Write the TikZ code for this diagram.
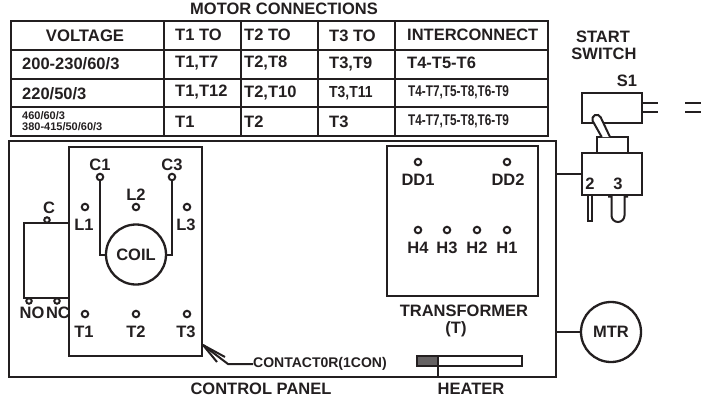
\documentclass[tikz,border=0pt]{standalone}
\usepackage{fontspec}
\setmainfont{Liberation Sans}
\newfontfamily\narrowfont{Liberation Sans}[FakeStretch=0.76]
\newfontfamily\halfnarrowfont{Liberation Sans}[FakeStretch=0.87]
\usetikzlibrary{positioning, calc}
\definecolor{ink}{HTML}{231F20}

\begin{document}
\begin{tikzpicture}[x=1pt, y=-1pt, ink,
    rule/.style={line width=2.3pt, ink},
    box/.style={rectangle, draw=ink, line width=2.3pt, inner sep=0pt, outer sep=0pt},
    term/.style={circle, draw=ink, line width=2pt, fill=white, inner sep=0pt, minimum size=6.5pt},
    wire/.style={line width=2pt, ink},
    cell/.style={anchor=west, inner sep=0pt, font=\fontsize{16.5}{16.5}\bfseries},
    big/.style={inner sep=0pt, font=\fontsize{16.7}{16.7}\bfseries},
    lab/.style={inner sep=0pt, font=\fontsize{16.5}{16.5}\bfseries},
    small/.style={anchor=west, inner sep=0pt, font=\fontsize{11}{11}\bfseries},
    tiny/.style={anchor=west, inner sep=0pt, font=\fontsize{16}{16}\halfnarrowfont\bfseries},
    tinier/.style={anchor=west, inner sep=0pt, font=\fontsize{15.5}{15.5}\narrowfont\bfseries}]

    \useasboundingbox (0,0) rectangle (707,400);

    % Table
    \node[lab] (title) at (284,9) {MOTOR CONNECTIONS};
    \draw[rule] (11,21) rectangle (548,136);
    \foreach \y in {50,79,107} \draw[rule] (11,\y) -- (548,\y);
    \foreach \x in {164,241,318,395} \draw[rule] (\x,21) -- (\x,136);

    \node[big] (volt) at (85,36) {VOLTAGE};
    \node[cell] (h1) at (175,35) {T1 TO};
    \node[cell] (h2) at (244,35) {T2 TO};
    \node[cell] (h3) at (329,36) {T3 TO};
    \node[cell] (h4) at (407,35) {INTERCONNECT};

    \node[cell] (v1) at (22,64) {200-230/60/3};
    \node[cell] (a1) at (175,63) {T1,T7};
    \node[cell] (b1) at (244,63) {T2,T8};
    \node[cell] (c1) at (329,64) {T3,T9};
    \node[cell] (d1) at (407,63) {T4-T5-T6};

    \node[cell] (v2) at (22,94) {220/50/3};
    \node[cell] (a2) at (175,92) {T1,T12};
    \node[cell] (b2) at (244,93) {T2,T10};
    \node[tiny] (c2) at (329,93) {T3,T11};
    \node[tinier] (d2) at (408,92) {T4-T7,T5-T8,T6-T9};

    \node[small] (v3) at (22,116) {460/60/3};
    \node[small] (v4) at (22,127) {380-415/50/60/3};
    \node[cell] (a3) at (175,122) {T1};
    \node[cell] (b3) at (244,122) {T2};
    \node[cell] (c3) at (329,122) {T3};
    \node[tinier] (d3) at (408,121) {T4-T7,T5-T8,T6-T9};

    % Control panel
    \node[box, minimum width=547pt, minimum height=236pt] (panel) at (282.5,259) {};
    \node[lab] (panel_lab) at (261,389) {CONTROL PANEL};

    % Contactor
    \node[box, minimum width=133pt, minimum height=209pt] (contactor) at (135.5,251.5) {};
    \node[box, minimum width=45pt, minimum height=75pt, anchor=east] (aux) at (contactor.west |- 0,260.5) {};
    \node[term, minimum size=5.5pt] (t_c) at (47,220) {};
    \node[term, minimum size=5.5pt] (t_no) at (29,301) {};
    \node[term, minimum size=5.5pt] (t_nc) at (57,301) {};
    \node[lab] (c_lab) at (49,208) {C};
    \node[lab] (no_lab) at (32,313) {NO};
    \node[lab] (nc_lab) at (58,313) {NC};

    \node[term] (t_c1) at (100,177) {};
    \node[term] (t_c3) at (172,177) {};
    \node[term] (t_l1) at (85,207) {};
    \node[term] (t_l2) at (136,207) {};
    \node[term] (t_l3) at (187,207) {};
    \node[term] (t_t1) at (85,314) {};
    \node[term] (t_t2) at (136,314) {};
    \node[term] (t_t3) at (187,314) {};
    \node[lab] (c1_lab) at (100,165) {C1};
    \node[lab] (c3_lab) at (172,165) {C3};
    \node[lab] (l1_lab) at (84,225) {L1};
    \node[lab] (l2_lab) at (136,195) {L2};
    \node[lab] (l3_lab) at (186,225) {L3};
    \node[lab] (t1_lab) at (84,332) {T1};
    \node[lab] (t2_lab) at (136,332) {T2};
    \node[lab] (t3_lab) at (186,332) {T3};

    \node[circle, draw=ink, line width=2.3pt, minimum size=60pt, inner sep=0pt, outer sep=0pt, lab] (coil) at (136,254.5) {COIL};
    \draw[wire] (t_c1) |- (coil.west);
    \draw[wire] (t_c3) |- (coil.east);

    % Contactor pointer
    \node[lab, anchor=west, font=\fontsize{14}{14}\bfseries] (con_lab) at (253,364) {CONTACT0R(1CON)};
    \coordinate (tip) at (203,345);
    \coordinate (bend) at (228,364);
    \coordinate (barb1) at (225,357);
    \coordinate (barb2) at (217,362);
    \draw[wire] (con_lab.west) -- (bend) -- (tip);
    \draw[wire] (tip) -- (barb1);
    \draw[wire] (tip) -- (barb2);

    % Transformer
    \node[box, minimum width=151pt, minimum height=150pt] (trans) at (462.5,221) {};
    \node[term] (t_dd1) at (418,162) {};
    \node[term] (t_dd2) at (507,162) {};
    \node[lab] (dd1_lab) at (418,180) {DD1};
    \node[lab] (dd2_lab) at (508,180) {DD2};
    \foreach \name/\x in {H4/418,H3/447,H2/477,H1/507} {
        \node[term] (t_\name) at (\x,230) {};
        \node[lab] (lab_\name) at (\x,248) {\name};
    }
    \node[lab] (trans_lab) at (464,311) {TRANSFORMER};
    \node[lab] (t_lab) at (456,329) {(T)};

    % Heater
    \node[box, fill=ink!70, line width=1.8pt, minimum width=21pt, minimum height=10pt] (heat_end) at (427.5,361) {};
    \node[box, line width=1.8pt, minimum width=84pt, minimum height=10pt, anchor=west] (heat) at (heat_end.east) {};
    \node[lab] (heat_lab) at (471,389) {HEATER};
    \draw[wire] (heat.south west) -- (heat.south west |- panel.south);

    % Motor
    \node[circle, draw=ink, line width=2.3pt, minimum size=60pt, inner sep=0pt, outer sep=0pt, lab] (mtr) at (611,332) {MTR};
    \draw[wire] (panel.east |- mtr) -- (mtr);

    % Start switch
    \node[lab] (start_lab) at (603,37) {START};
    \node[lab] (sw_lab) at (604,54) {SWITCH};
    \node[lab] (s1_lab) at (627,81) {S1};
    \node[box, minimum width=60pt, minimum height=30pt] (s1) at (612,108) {};
    \coordinate (p1) at (658,103);
    \coordinate (p2) at (658,112);
    \draw[wire] (p1 -| s1.east) -- (p1);
    \draw[wire] (p2 -| s1.east) -- (p2);
    \node[inner sep=0pt] (eq) at (693,107.5) {};
    \draw[wire] ([xshift=-8pt,yshift=4.5pt]eq.center) -- ([xshift=8pt,yshift=4.5pt]eq.center);
    \draw[wire] ([xshift=-8pt,yshift=-4.5pt]eq.center) -- ([xshift=8pt,yshift=-4.5pt]eq.center);

    \node[box, minimum width=60pt, minimum height=42pt] (body) at (612,174) {};
    \node[box, minimum width=31pt, minimum height=16pt, anchor=south] (collar) at (612.5,153) {};
    \draw[wire] (panel.east |- body) -- (body);
    \node[lab] (two) at (590,184) {2};
    \node[lab] (three) at (618,184) {3};

    % Lever and prongs
    \draw[wire, fill=white] (601.7,137) -- (592.7,121) arc[start angle=205, end angle=25, radius=4.4pt] -- (610,137);
    \draw[wire] (587.5,195) -- (587.5,221) -- (591.5,221) -- (591.5,195);
    \draw[wire] (608,196.5) -- (611.5,196.5) -- (611.5,215.5) arc[start angle=180, end angle=360, radius=6.5pt] -- (624.5,196.5) -- (628,196.5);
\end{tikzpicture}
\end{document}
